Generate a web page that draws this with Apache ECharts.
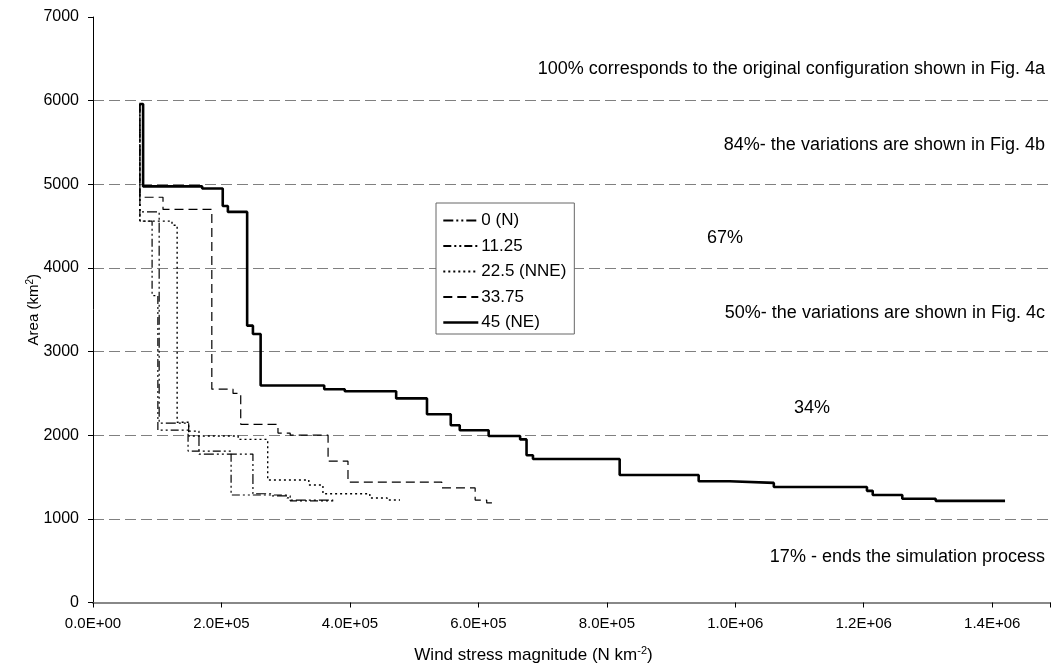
<!DOCTYPE html>
<html>
<head>
<meta charset="utf-8">
<title>Area vs wind stress magnitude</title>
<script src="https://cdn.jsdelivr.net/npm/echarts@6/dist/echarts.min.js"></script>
<style>
  html, body { margin: 0; padding: 0; background: #fff; }
  #main { width: 1053px; height: 669px; }
</style>
</head>
<body>
<div id="main"></div>
<script>
// each pair = wind stress (N km-2) where an area level starts, and that area (km2)
const stressN   = [7.3e4, 7.3e4, 1.03e5, 1.49e5, 1.65e5, 2.49e5, 2.79e5, 3.07e5, 3.74e5];
const areaN     = [5960, 4670, 2145, 2050, 1775, 1300, 1275, 1225, 1225];

const stress1125 = [7.3e4, 7.3e4, 9.2e4, 1.01e5, 1.48e5, 2.15e5, 3.02e5, 3.07e5, 3.74e5];
const area1125   = [5960, 4560, 3670, 2060, 1810, 1285, 1250, 1215, 1215];

const stressNNE = [7.3e4, 7.3e4, 1.23e5, 1.31e5, 1.49e5, 2.26e5, 2.72e5, 3.36e5, 3.58e5, 4.31e5, 4.58e5, 4.78e5];
const areaNNE   = [5960, 4560, 4510, 2155, 1990, 1950, 1465, 1405, 1300, 1250, 1225, 1225];

const stress3375 = [7.3e4, 7.3e4, 1.09e5, 1.85e5, 2.18e5, 2.30e5, 2.88e5, 3.07e5, 3.66e5, 3.97e5, 5.43e5, 5.95e5, 6.13e5, 6.26e5];
const area3375   = [5960, 4845, 4700, 2550, 2500, 2130, 2025, 2000, 1690, 1440, 1370, 1225, 1190, 1190];

const stressNE = [7.2e4, 7.8e4, 1.70e5, 2.02e5, 2.10e5, 2.40e5, 2.49e5, 2.61e5, 3.60e5, 3.92e5,
                  4.72e5, 5.20e5, 5.57e5, 5.71e5, 6.16e5, 6.65e5, 6.75e5, 6.85e5, 8.20e5, 9.43e5,
                  9.91e5, 1.06e6, 1.205e6, 1.214e6, 1.26e6, 1.312e6, 1.42e6];
const areaNE   = [5960, 4975, 4950, 4740, 4670, 3310, 3210, 2595, 2550, 2525,
                  2440, 2250, 2120, 2060, 1990, 1950, 1760, 1715, 1525, 1450,
                  1430, 1380, 1335, 1285, 1240, 1215, 1215];

const names = ['0 (N)', '11.25', '22.5 (NNE)', '33.75', '45 (NE)'];

// notes written between the grid lines
const notes = [
  '100% corresponds to the original configuration shown in Fig. 4a',
  '84%- the variations are shown in Fig. 4b',
  '67%',
  '50%- the variations are shown in Fig. 4c',
  '34%',
  '17% - ends the simulation process'
];

const FONT = '"Liberation Sans", Arial, sans-serif';
const NARROW = '"Liberation Sans Narrow", "Arial Narrow", "Liberation Sans", sans-serif';

const zip = (xs, ys) => xs.map((x, i) => [x, ys[i]]);

// 2.0E+05 style labels, only on the 2E5 steps
function sciLabel(v) {
  const k = v / 2e5;
  if (Math.abs(k - Math.round(k)) > 1e-6) return '';
  if (v === 0) return '0.0E+00';
  const e = Math.floor(Math.log10(v) + 1e-9);
  const m = v / Math.pow(10, e);
  return m.toFixed(1) + 'E+' + String(e).padStart(2, '0');
}

function stepSeries(name, xs, ys, width, dash, z) {
  return {
    name: name,
    type: 'line',
    step: 'end',
    symbol: 'none',
    data: zip(xs, ys),
    z: z,
    itemStyle: { color: '#000' },
    lineStyle: { color: '#000', width: width, type: dash },
    emphasis: { disabled: true }
  };
}

const chart = echarts.init(document.getElementById('main'));

const noteStyle = { font: '18px ' + FONT, fill: '#000', verticalAlign: 'middle' };

chart.setOption({
  animation: false,
  backgroundColor: '#fff',
  grid: { left: 93, right: 3, top: 17, bottom: 64, containLabel: false },
  legend: {
    orient: 'vertical',
    left: 436,
    top: 203,
    data: names.map((n, i) => i === 4 ? { name: n, lineStyle: { width: 2.6 } } : n),
    itemWidth: 35,
    itemHeight: 14,
    itemGap: 8.5,
    padding: [9, 8, 3, 6],
    backgroundColor: '#fff',
    borderColor: '#666',
    borderWidth: 1,
    borderRadius: 0,
    selectedMode: false,
    itemStyle: { opacity: 0 },
    textStyle: { color: '#000', fontSize: 17, fontFamily: FONT, padding: [0, 0, 0, -2] }
  },
  xAxis: {
    type: 'value',
    min: 0,
    max: 1.49e6,
    interval: 2e5,
    name: 'Wind stress magnitude (N km{s|-2})',
    nameLocation: 'middle',
    nameGap: 43,
    nameMoveOverlap: false,
    nameTextStyle: {
      color: '#000', fontSize: 17, fontFamily: NARROW, padding: [0, 76, 0, 0],
      rich: { s: { fontSize: 11, fontFamily: NARROW, verticalAlign: 'top', padding: [0, 0, 9, 0] } }
    },
    axisLine: { show: true, lineStyle: { color: '#888', width: 2 } },
    axisTick: { show: true, length: 5, lineStyle: { color: '#000' } },
    axisLabel: { color: '#000', fontSize: 15, fontFamily: NARROW, margin: 14, formatter: sciLabel },
    splitLine: { show: false }
  },
  yAxis: {
    type: 'value',
    min: 0,
    max: 7000,
    interval: 1000,
    name: 'Area (km{s|2})',
    nameLocation: 'middle',
    nameGap: 50,
    nameMoveOverlap: false,
    nameRotate: 90,
    nameTextStyle: {
      color: '#000', fontSize: 15, fontFamily: NARROW,
      rich: { s: { fontSize: 10, fontFamily: NARROW, verticalAlign: 'top', padding: [0, 0, 8, 0] } }
    },
    axisLine: { show: true, lineStyle: { color: '#000', width: 1 } },
    axisTick: { show: true, length: 5, lineStyle: { color: '#000' } },
    axisLabel: { color: '#000', fontSize: 16, fontFamily: FONT, margin: 14, formatter: v => String(v) },
    splitLine: {
      show: true,
      showMinLine: false,
      showMaxLine: false,
      lineStyle: { color: '#808080', width: 1, type: [11, 5] }
    }
  },
  graphic: [
    { type: 'text', x: 1045, y: 69,  style: Object.assign({ text: notes[0], align: 'right' }, noteStyle) },
    { type: 'text', x: 1045, y: 145, style: Object.assign({ text: notes[1], align: 'right' }, noteStyle) },
    { type: 'text', x: 725,  y: 238, style: Object.assign({ text: notes[2], align: 'center' }, noteStyle) },
    { type: 'text', x: 1045, y: 313, style: Object.assign({ text: notes[3], align: 'right' }, noteStyle) },
    { type: 'text', x: 812,  y: 408, style: Object.assign({ text: notes[4], align: 'center' }, noteStyle) },
    { type: 'text', x: 1045, y: 557, style: Object.assign({ text: notes[5], align: 'right' }, noteStyle) }
  ],
  series: [
    stepSeries(names[0], stressN, areaN, 1.2, [10, 3, 2, 3, 2, 3], 2),
    stepSeries(names[1], stress1125, area1125, 1.2, [8, 3, 2, 3, 2, 3], 2),
    stepSeries(names[2], stressNNE, areaNNE, 1.4, [2, 3], 2),
    stepSeries(names[3], stress3375, area3375, 1.2, [9, 5], 2),
    stepSeries(names[4], stressNE, areaNE, 2.6, 'solid', 3)
  ]
});
</script>
</body>
</html>
